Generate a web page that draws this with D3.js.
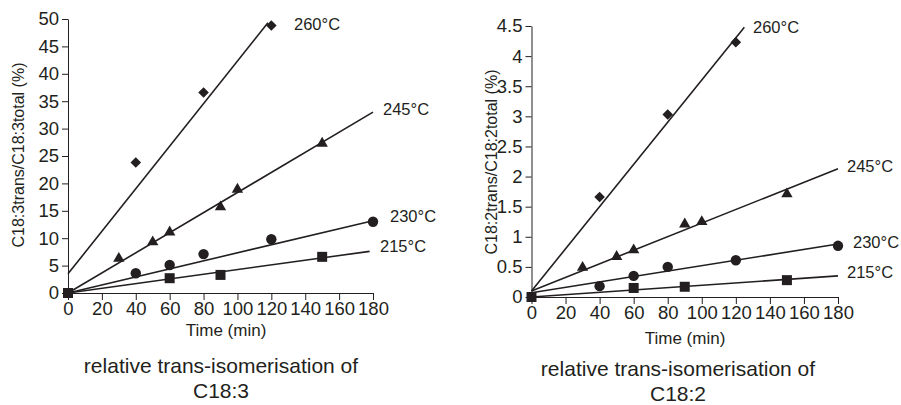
<!DOCTYPE html>
<html><head><meta charset="utf-8">
<script src="https://cdn.jsdelivr.net/npm/d3@7"></script>
<style>
html,body{margin:0;padding:0;background:#fff;}
svg{display:block;font-family:"Liberation Sans",Arial,sans-serif;}
</style></head>
<body>
<svg id="c" width="901" height="405"></svg>
<script>
// ---- data ----
const xTicks = [0,20,40,60,80,100,120,140,160,180];
const series = ["260°C","245°C","230°C","215°C"];
const symbolsOf = ["diamond","triangle","circle","square"];

// C18:3 panel
const c183_260_t = [40,80,120];
const c183_260_v = [23.8,36.6,48.8];
const c183_245_t = [30,50,60,90,100,150];
const c183_245_v = [6.3,9.3,11.1,15.7,18.9,27.3];
const c183_230_t = [40,60,80,120,180];
const c183_230_v = [3.6,5.1,7.1,9.8,13.0];
const c183_215_t = [0,60,90,150];
const c183_215_v = [0,2.7,3.3,6.6];
// fitted lines: [t0, v0, t1, v1]
const c183_fit = [[0,3.5,118,49.3],[0,0,180,33.0],[0,0,180,13.2],[0,0,178,7.6]];
const c183_yTicks = [0,5,10,15,20,25,30,35,40,45,50];

// C18:2 panel
const c182_260_t = [40,80,120];
const c182_260_v = [1.66,3.03,4.23];
const c182_245_t = [30,50,60,90,100,150];
const c182_245_v = [0.49,0.67,0.78,1.21,1.25,1.71];
const c182_230_t = [40,60,80,120,180];
const c182_230_v = [0.18,0.35,0.50,0.61,0.85];
const c182_215_t = [0,60,90,150];
const c182_215_v = [0,0.15,0.17,0.28];
const c182_fit = [[0,0.1,125,4.48],[0,0.1,180,2.13],[0,0.07,180,0.88],[0,0,180,0.35]];
const c182_yTicks = [0,0.5,1,1.5,2,2.5,3,3.5,4,4.5];

const svg = d3.select("#c");
const ink = "#231f20";

function zip(t,v){ return t.map((d,i)=>({t:d,v:v[i]})); }

function panel(cfg){
  const g = svg.append("g");
  const x = d3.scaleLinear().domain([0,180]).range(cfg.xr);
  const y = d3.scaleLinear().domain(cfg.yd).range(cfg.yr);

  // x axis
  const xa = g.append("g").attr("transform",`translate(0,${cfg.yr[0]})`);
  xa.call(d3.axisBottom(x).tickValues(d3.range(0,181,5)).tickSize(4).tickSizeOuter(0).tickFormat(""));
  xa.call(d3.axisBottom(x).tickValues(xTicks).tickSize(7).tickSizeOuter(0).tickPadding(2));
  xa.selectAll("text").attr("font-size",18.5).attr("fill",ink);
  xa.selectAll("line,path").attr("stroke",ink);

  // y axis
  const ya = g.append("g").attr("transform",`translate(${cfg.xr[0]},0)`);
  ya.call(d3.axisLeft(y).tickValues(d3.range(cfg.yd[0],cfg.yd[1]+cfg.minor/2,cfg.minor)).tickSize(3).tickSizeOuter(0).tickFormat(""));
  ya.call(d3.axisLeft(y).tickValues(cfg.yTicks).tickSize(6).tickSizeOuter(0).tickPadding(3).tickFormat(d3.format("")));
  ya.selectAll("text").attr("font-size",18.5).attr("fill",ink);
  ya.selectAll("line,path").attr("stroke",ink);

  // axis titles
  g.append("text").attr("x",cfg.xTitle[0]).attr("y",cfg.xTitle[1]).attr("text-anchor","middle")
    .attr("font-size",17).attr("fill",ink).text("Time (min)");
  g.append("text").attr("transform",`translate(${cfg.yTitle[0]},${cfg.yTitle[1]}) rotate(-90)`)
    .attr("text-anchor","middle").attr("dominant-baseline","middle")
    .attr("font-size",16).attr("fill",ink).text(cfg.yLabel);

  // fit lines
  cfg.fit.forEach(f=>{
    g.append("line").attr("x1",x(f[0])).attr("y1",y(f[1])).attr("x2",x(f[2])).attr("y2",y(f[3]))
      .attr("stroke",ink).attr("stroke-width",1.6);
  });

  // markers
  cfg.data.forEach((d,i)=>{
    const sym = symbolsOf[i];
    let gen, rot = 0;
    if(sym==="diamond"){ gen = d3.symbol(d3.symbolSquare,56); rot = 45; }
    else if(sym==="triangle"){ gen = d3.symbol(d3.symbolTriangle,56); }
    else if(sym==="circle"){ gen = d3.symbol(d3.symbolCircle,85); }
    else { gen = d3.symbol(d3.symbolSquare,100); }
    g.selectAll(null).data(d).enter().append("path")
      .attr("d",gen)
      .attr("transform",p=>`translate(${x(p.t)},${y(p.v)}) rotate(${rot})`)
      .attr("fill",ink);
  });

  // series labels
  series.forEach((s,i)=>{
    g.append("text").attr("x",cfg.labels[i][0]).attr("y",cfg.labels[i][1])
      .attr("font-size",16.5).attr("fill",ink).text(s);
  });

  // caption
  g.append("text").attr("x",cfg.cap[0]).attr("y",cfg.cap[1]).attr("text-anchor","middle")
    .attr("font-size",21).attr("fill",ink).text("relative trans-isomerisation of");
  g.append("text").attr("x",cfg.cap[0]).attr("y",cfg.cap[1]+25).attr("text-anchor","middle")
    .attr("font-size",21).attr("fill",ink).text(cfg.capLine2);
}

panel({
  xr:[68,373], yr:[293,19], yd:[0,50], minor:1, yTicks:c183_yTicks,
  xTitle:[226,336], yTitle:[20,155], yLabel:"C18:3trans/C18:3total (%)",
  fit:c183_fit,
  data:[zip(c183_260_t,c183_260_v),zip(c183_245_t,c183_245_v),zip(c183_230_t,c183_230_v),zip(c183_215_t,c183_215_v)],
  labels:[[294,30],[383,115],[390,222],[380,252]],
  cap:[221,373], capLine2:"C18:3"
});
panel({
  xr:[531.5,838], yr:[297,26], yd:[0,4.5], minor:0.1, yTicks:c182_yTicks,
  xTitle:[685,344], yTitle:[493,162], yLabel:"C18:2trans/C18:2total (%)",
  fit:c182_fit,
  data:[zip(c182_260_t,c182_260_v),zip(c182_245_t,c182_245_v),zip(c182_230_t,c182_230_v),zip(c182_215_t,c182_215_v)],
  labels:[[753,33],[847,172],[853,248],[847,278]],
  cap:[678,376], capLine2:"C18:2"
});
</script>
</body></html>
